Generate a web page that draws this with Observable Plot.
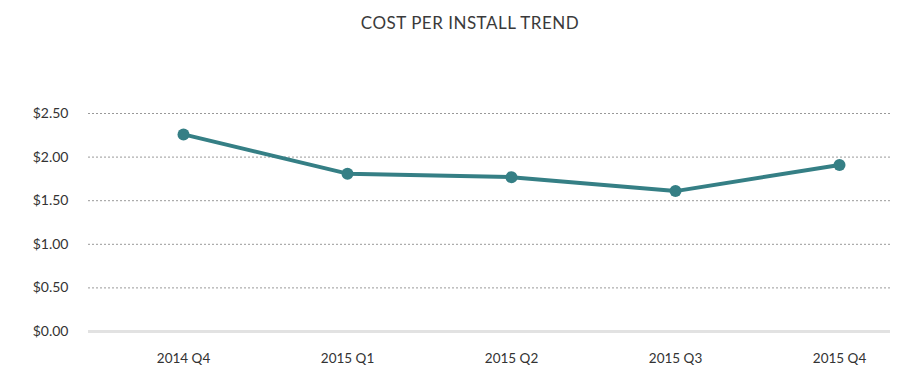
<!DOCTYPE html>
<html>
<head>
<meta charset="utf-8">
<script src="https://cdn.jsdelivr.net/npm/d3@7"></script>
<script src="https://cdn.jsdelivr.net/npm/@observablehq/plot@0.6"></script>
<style>
  html, body { margin: 0; padding: 0; background: #fff; }
  #title { height: 44px; line-height: 46px; text-align: center; font-family: Lato, "Open Sans", sans-serif; font-size: 17px; color: #3a3a3a; letter-spacing: 0.5px; padding-left: 30px; }
  #chart { width: 910px; }
</style>
</head>
<body>
<div id="title">COST PER INSTALL TREND</div>
<div id="chart"></div>
<script>
const quarters = ["2014 Q4", "2015 Q1", "2015 Q2", "2015 Q3", "2015 Q4"];
const costPerInstall = [2.26, 1.81, 1.77, 1.61, 1.91];
const yTicks = [0, 0.5, 1, 1.5, 2, 2.5];
const gridTicks = [0.5, 1, 1.5, 2, 2.5];

const data = quarters.map((q, i) => ({quarter: q, cost: costPerInstall[i]}));
const teal = "#357f85";

const chart = Plot.plot({
  width: 910,
  height: 345,
  marginTop: 69,
  marginBottom: 58,
  marginLeft: 88,
  marginRight: 20,
  style: {fontFamily: "Lato, 'Open Sans', sans-serif", fontSize: "13px", color: "#333", background: "#fff"},
  x: {type: "point", domain: quarters, range: [182, 840], padding: 0, label: null},
  y: {domain: [0, 2.5], label: null},
  marks: [
    Plot.ruleY(gridTicks, {stroke: "#999", strokeWidth: 1, strokeDasharray: "2,2"}),
    Plot.ruleY([0], {stroke: "#e2e2e2", strokeWidth: 3}),
    Plot.axisY(yTicks, {tickSize: 0, tickPadding: 20, tickFormat: d => "$" + d3.format(".2f")(d), fontSize: 14, fill: "#333", label: null}),
    Plot.axisX(quarters, {tickSize: 0, tickPadding: 22, fontSize: 13.5, fill: "#333", label: null}),
    Plot.line(data, {x: "quarter", y: "cost", stroke: teal, strokeWidth: 4}),
    Plot.dot(data, {x: "quarter", y: "cost", r: 6, fill: teal, stroke: "none"})
  ]
});
document.getElementById("chart").appendChild(chart);
</script>
</body>
</html>
